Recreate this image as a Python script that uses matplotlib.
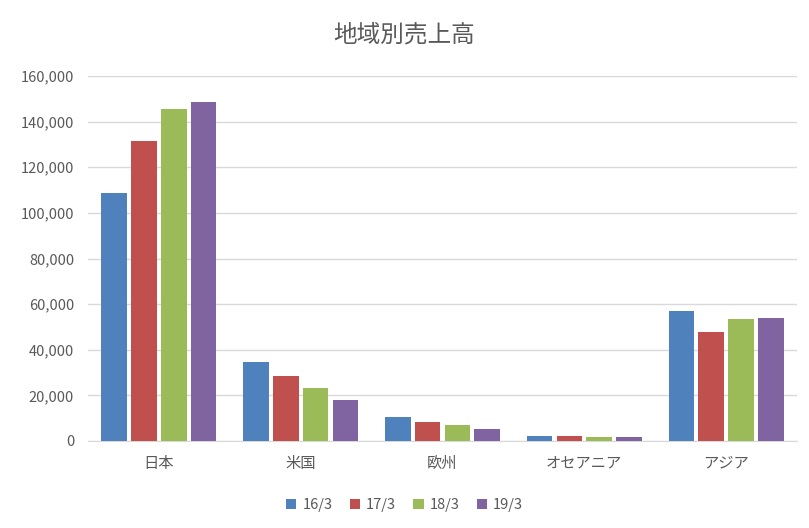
import matplotlib
matplotlib.use("Agg")
import matplotlib.pyplot as plt
import numpy as np

plt.rcParams["font.family"] = "Noto Sans CJK JP"

categories = ["日本", "米国", "欧州", "オセアニア", "アジア"]
series_names = ["16/3", "17/3", "18/3", "19/3"]
s16 = [108500, 34800, 10500, 2200, 57000]
s17 = [131500, 28500, 8500, 2100, 47800]
s18 = [145500, 23300, 7000, 1800, 53500]
s19 = [148500, 18000, 5400, 1600, 54000]
colors = ["#4F81BD", "#C0504D", "#9BBB59", "#8064A2"]
yticks = np.arange(0, 160001, 20000)

fig = plt.figure(figsize=(8.09, 5.28), dpi=100)
ax = fig.add_axes([88/809, 1-441/528, (797-88)/809, (441-76)/528])
x = np.arange(len(categories))
w = 0.18
for i, (vals, name) in enumerate(zip([s16, s17, s18, s19], series_names)):
    ax.bar(x + (i - 1.5) * (w + 0.03), vals, w, color=colors[i], label=name, zorder=3)

ax.set_xlim(-0.5, len(categories) - 0.5)
ax.set_ylim(0, 160000)
ax.set_yticks(yticks)
ax.set_yticklabels([f"{v:,}" for v in yticks], color="#595959", fontsize=10.5)
ax.set_xticks(x)
ax.set_xticklabels(categories, color="#595959", fontsize=11)
ax.grid(axis="y", color="#D9D9D9", linewidth=1, zorder=0)
for s in ["top", "right", "left"]:
    ax.spines[s].set_visible(False)
ax.spines["bottom"].set_color("#D9D9D9")
ax.tick_params(length=0, pad=10)
fig.text(0.5, 1-35/528, "地域別売上高", ha="center", va="center", fontsize=17, color="#595959")
fig.legend(loc="center", bbox_to_anchor=(0.5, 1-505/528), ncol=4, frameon=False,
           handlelength=0.7, handleheight=0.7, columnspacing=1.2, handletextpad=0.4,
           labelcolor="#595959", fontsize=10.5)
fig.savefig("out.png", dpi=100)
